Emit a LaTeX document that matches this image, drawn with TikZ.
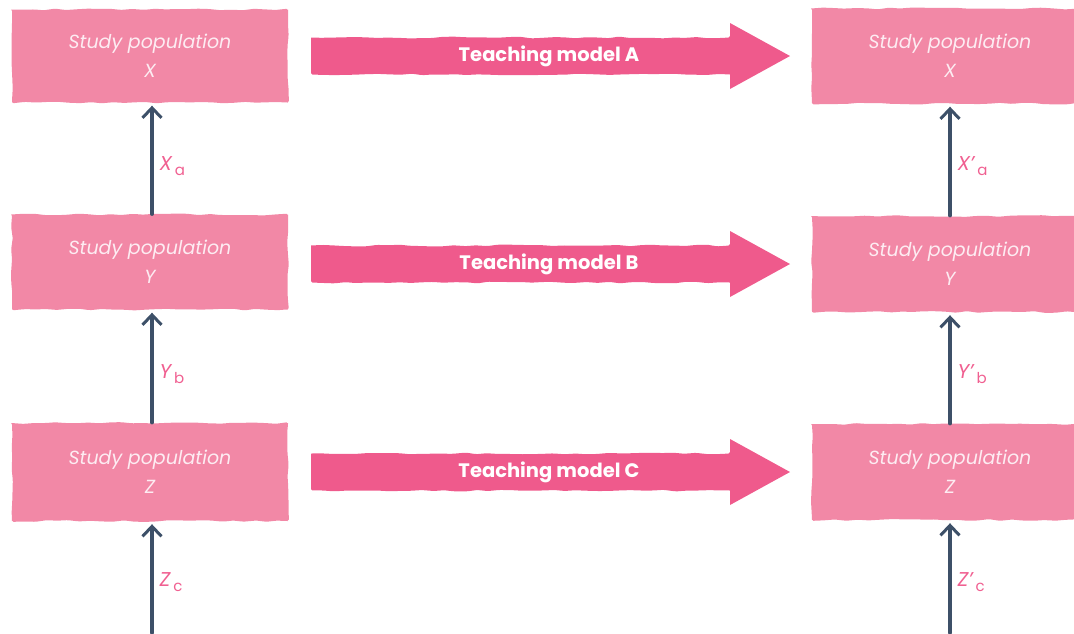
\documentclass[tikz,border=0pt]{standalone}
\usepackage{fontspec}
\setmainfont{Poppins}
\usetikzlibrary{decorations.pathmorphing,arrows.meta,calc}

\definecolor{boxpink}{RGB}{242,136,166}
\definecolor{arrowpink}{RGB}{239,90,140}
\definecolor{labelpink}{RGB}{240,96,145}
\definecolor{slate}{RGB}{61,80,104}
\definecolor{boxtext}{RGB}{253,236,242}

\tikzset{
  wobble/.style={decorate,decoration={random steps,segment length=11pt,amplitude=0.9pt},rounded corners=1.5pt},
  popbox/.style={minimum width=276pt,minimum height=95pt,inner sep=0pt,
    align=center,text=boxtext,font=\fontsize{19}{29}\selectfont\itshape},
  popfill/.style={fill=boxpink,wobble},
  bigarrow/.style={fill=arrowpink},
  modeltext/.style={text=white,font=\fontsize{19.5}{22}\selectfont\bfseries},
  vline/.style={draw=slate,line width=3.2pt,line cap=round,
    -{Straight Barb[length=10pt,width=19pt,line width=3pt]}},
  vlabel/.style={text=labelpink,anchor=west,font=\fontsize{20}{22}\selectfont}
}

% box background plus its text node
\newcommand{\studybox}[5]{%
  \fill[popfill] (#2-138,#3-#4/2) rectangle (#2+138,#3+#4/2);
  \node[popbox,minimum height=#4] (#1) at (#2,#3) {Study population\\#5};
}
% teaching model arrow with slightly ragged shaft
\newcommand{\modelarrow}[3]{%
  \fill[bigarrow] (311,#1-18.5) decorate[wobble]{-- (730,#1-18.5)} -- (730,#1-33)
    -- (790,#1) -- (730,#1+33) -- (730,#1+18.5) decorate[wobble]{-- (311,#1+18.5)} -- cycle;
  \node[modeltext] (#2) at (549,#1) {#3};
}
\newcommand{\sublabel}[2]{{\itshape #1}\hspace{3pt}\raisebox{-5pt}{\fontsize{15}{15}\selectfont #2}}

\begin{document}
\begin{tikzpicture}[x=1pt,y=-1pt]
\pgfmathsetseed{11}
\useasboundingbox (0,0) rectangle (1074,633);
\clip (0,0) rectangle (1074,633);

% left column
\studybox{xl}{150}{56}{93}{X}
\studybox{yl}{150}{262}{95}{Y}
\studybox{zl}{150}{472}{98}{Z}
% right column
\studybox{xr}{950}{56}{95}{X}
\studybox{yr}{950}{264}{96}{Y}
\studybox{zr}{950}{472}{96}{Z}

% teaching models
\modelarrow{56}{ma}{Teaching model A}
\modelarrow{264}{mb}{Teaching model B}
\modelarrow{472}{mc}{Teaching model C}

% vertical transitions, left
\coordinate (zlin) at (152,633);
\draw[vline] ([xshift=2pt]yl.north) -- ([xshift=2pt,yshift=-3pt]xl.south);
\draw[vline] ([xshift=2pt]zl.north) -- ([xshift=2pt,yshift=-3pt]yl.south);
\draw[vline] (zlin) -- ([xshift=2pt,yshift=-3pt]zl.south);
\node[vlabel] (la) at (156,166) {\sublabel{X}{a}};
\node[vlabel] (lb) at (156,374) {\sublabel{Y}{b}};
\node[vlabel] (lc) at (156,582) {\sublabel{Z}{c}};

% vertical transitions, right
\coordinate (zrin) at (950,633);
\draw[vline] (yr.north) -- ([yshift=-3pt]xr.south);
\draw[vline] (zr.north) -- ([yshift=-3pt]yr.south);
\draw[vline] (zrin) -- ([yshift=-3pt]zr.south);
\node[vlabel] (ra) at (954,166) {\sublabel{X’}{a}};
\node[vlabel] (rb) at (954,374) {\sublabel{Y’}{b}};
\node[vlabel] (rc) at (954,582) {\sublabel{Z’}{c}};
\end{tikzpicture}
\end{document}
